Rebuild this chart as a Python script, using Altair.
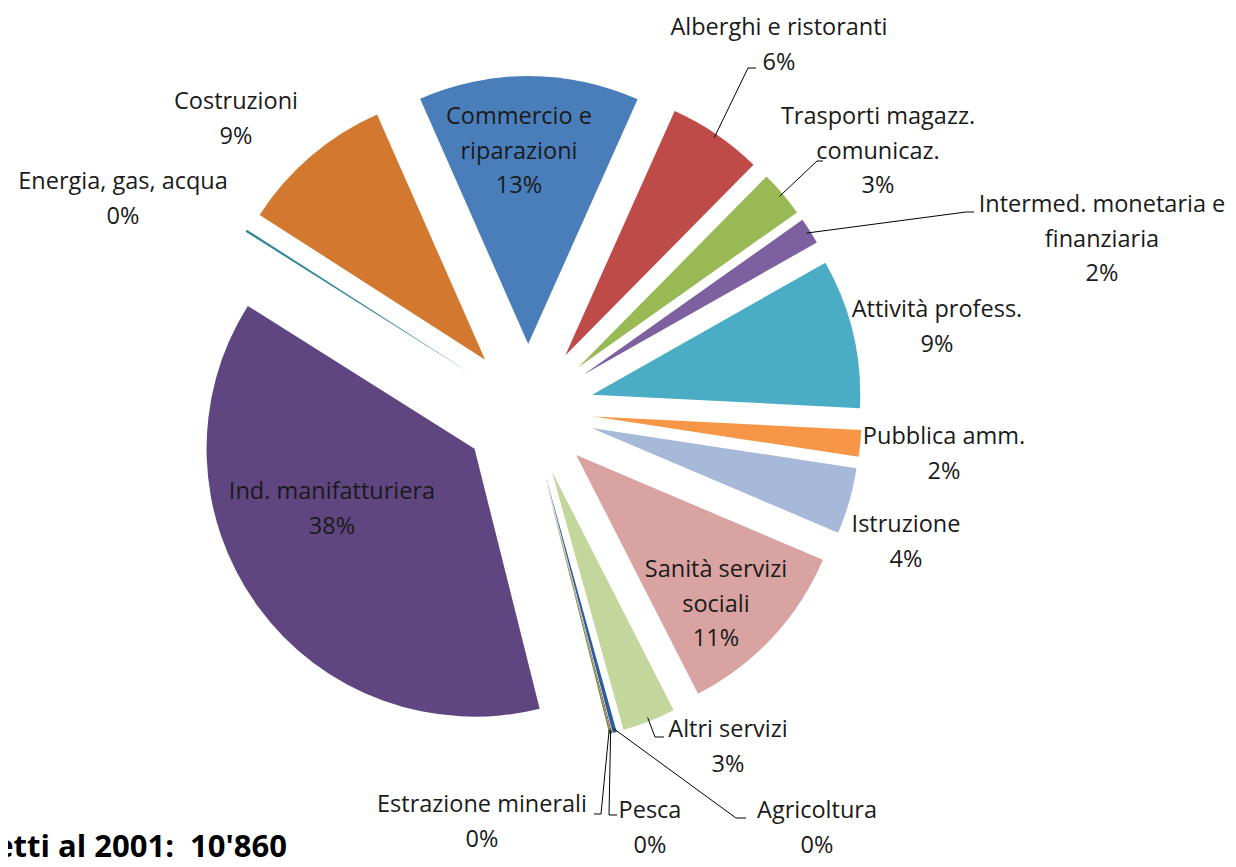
import math
import altair as alt
import pandas as pd

# ---------------- data ----------------
categories = [
    "Agricoltura", "Pesca", "Estrazione minerali", "Ind. manifatturiera",
    "Energia, gas, acqua", "Costruzioni", "Commercio e riparazioni",
    "Alberghi e ristoranti", "Trasporti magazz. comunicaz.",
    "Intermed. monetaria e finanziaria", "Attività profess.", "Pubblica amm.",
    "Istruzione", "Sanità servizi sociali", "Altri servizi",
]
label_lines = [
    ["Agricoltura"], ["Pesca"], ["Estrazione minerali"], ["Ind. manifatturiera"],
    ["Energia, gas, acqua"], ["Costruzioni"], ["Commercio e", "riparazioni"],
    ["Alberghi e ristoranti"], ["Trasporti magazz.", "comunicaz."],
    ["Intermed. monetaria e", "finanziaria"], ["Attività profess."], ["Pubblica amm."],
    ["Istruzione"], ["Sanità servizi", "sociali"], ["Altri servizi"],
]
shares = [0.25, 0.05, 0.10, 37.85, 0.15, 9.3, 13.3, 5.7, 2.8, 1.6, 9.0, 1.6, 4.0, 11.1, 3.2]
title_text = "Addetti al 2001:\u00a0 10'860"

# ---------------- styles / layout ----------------
colors = ["#2C5F9A", "#8C3836", "#6E8B3D", "#5F4680", "#31859C", "#D2792F",
          "#4A7EBB", "#BE4B48", "#98B954", "#7D60A0", "#4BACC6", "#F79646",
          "#A7B9D9", "#D9A3A2", "#C3D69B"]
M = 8                      # page margin
W, H = 1220, 851
CX, CY = 528 - M, 410 - M  # pie centre (plot coords)
R = 268                    # outer radius
EXPLODE = 66               # explosion distance
START_DEG = 164.5          # angle of first slice (clockwise from 12 o'clock)
FONT = "Open Sans"
FS = 23.5
LH = 34.5

# label block: centre x, centre y of first line (page coords)
label_pos = {
    "Agricoltura": (817, 811), "Pesca": (650, 811), "Estrazione minerali": (482, 805),
    "Ind. manifatturiera": (332, 492), "Energia, gas, acqua": (123, 182),
    "Costruzioni": (236, 102), "Commercio e riparazioni": (519, 117),
    "Alberghi e ristoranti": (779, 28), "Trasporti magazz. comunicaz.": (878, 117),
    "Intermed. monetaria e finanziaria": (1102, 205), "Attività profess.": (937, 310),
    "Pubblica amm.": (944, 437), "Istruzione": (906, 525),
    "Sanità servizi sociali": (716, 570), "Altri servizi": (728, 730),
}
# leader lines: elbow and end points (page coords)
leaders = {
    "Alberghi e ristoranti": [(748, 68), (756, 68)],
    "Trasporti magazz. comunicaz.": [(817, 161), (823, 161)],
    "Intermed. monetaria e finanziaria": [(966, 212), (974, 212)],
    "Altri servizi": [(655, 737), (664, 737)],
    "Agricoltura": [(736, 818), (746, 818)],
    "Pesca": [(609, 815), (617, 815)],
    "Estrazione minerali": [(601, 814), (594, 814)],
}

# ---------------- geometry derived from data ----------------
total = sum(shares)
start = math.radians(START_DEG)
rows = []
cum = 0.0
mids = {}
for i, (c, v) in enumerate(zip(categories, shares)):
    mid = start + 2 * math.pi * (cum + v / 2) / total
    cum += v
    mids[c] = mid
    rows.append({
        "cat": c, "val": v, "order": i,
        "cx": CX + EXPLODE * math.sin(mid),
        "cy": CY - EXPLODE * math.cos(mid),
    })
df = pd.DataFrame(rows)

lab_rows = []
for c, v, lines in zip(categories, shares, label_lines):
    x0, y0 = label_pos[c]
    pct = f"{round(v / total * 100):d}%"
    for j, t in enumerate(lines + [pct]):
        lab_rows.append({"x": x0 - M, "y": y0 - M + j * LH, "t": t})
lab_df = pd.DataFrame(lab_rows)

lead_rows = []
for c, pts in leaders.items():
    mid = mids[c]
    ax = CX + EXPLODE * math.sin(mid)
    ay = CY - EXPLODE * math.cos(mid)
    sx = ax + (R - 4) * math.sin(mid)
    sy = ay - (R - 4) * math.cos(mid)
    lead_rows.append({"id": c, "seq": 0, "x": sx, "y": sy})
    for k, (px, py) in enumerate(pts):
        lead_rows.append({"id": c, "seq": k + 1, "x": px - M, "y": py - M})
lead_df = pd.DataFrame(lead_rows)

title_df = pd.DataFrame({"x": [287 - M], "y": [857 - M], "t": [title_text]})

# ---------------- chart ----------------
pie = alt.Chart(df).mark_arc(outerRadius=R, innerRadius=0).encode(
    theta=alt.Theta("val:Q", stack=True,
                    scale=alt.Scale(domain=[0, total],
                                    range=[start, start + 2 * math.pi])),
    order=alt.Order("order:Q"),
    color=alt.Color("cat:N", scale=alt.Scale(domain=categories, range=colors), legend=None),
    x=alt.X("cx:Q", scale=None),
    y=alt.Y("cy:Q", scale=None),
)

lines = alt.Chart(lead_df).mark_line(color="#000000", strokeWidth=1).encode(
    x=alt.X("x:Q", scale=None),
    y=alt.Y("y:Q", scale=None),
    detail="id:N",
    order="seq:Q",
)

labels = alt.Chart(lab_df).mark_text(
    font=FONT, fontSize=FS, color="#1a1a1a", align="center", baseline="middle"
).encode(
    x=alt.X("x:Q", scale=None),
    y=alt.Y("y:Q", scale=None),
    text="t:N",
)

title = alt.Chart(title_df).mark_text(
    font=FONT, fontSize=31, fontWeight="bold", color="#000000",
    align="right", baseline="alphabetic"
).encode(
    x=alt.X("x:Q", scale=None),
    y=alt.Y("y:Q", scale=None),
    text="t:N",
)

chart = alt.layer(pie, lines, labels, title).properties(
    width=W, height=H, padding=0,
    autosize=alt.AutoSizeParams(type="none"),
).configure_view(stroke=None)

chart.save("out.html", embed_options={"renderer": "svg", "actions": False})
